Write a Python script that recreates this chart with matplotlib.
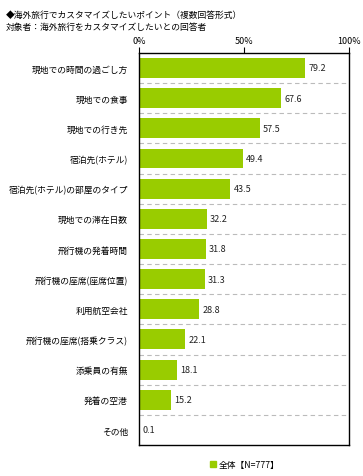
import matplotlib
matplotlib.use("Agg")
import matplotlib.pyplot as plt
from matplotlib.patches import Rectangle

plt.rcParams['font.family'] = ['Noto Sans CJK JP', 'DejaVu Sans']

categories = [
    "現地での時間の過ごし方",
    "現地での食事",
    "現地での行き先",
    "宿泊先(ホテル)",
    "宿泊先(ホテル)の部屋のタイプ",
    "現地での滞在日数",
    "飛行機の発着時間",
    "飛行機の座席(座席位置)",
    "利用航空会社",
    "飛行機の座席(搭乗クラス)",
    "添乗員の有無",
    "発着の空港",
    "その他",
]
values = [79.2, 67.6, 57.5, 49.4, 43.5, 32.2, 31.8, 31.3, 28.8, 22.1, 18.1, 15.2, 0.1]
ticks = [0, 50, 100]
tick_labels = ["0%", "50%", "100%"]
legend_label = "全体【N=777】"
bar_color = "#99CC00"

fig = plt.figure(figsize=(3.63, 4.77), dpi=100)
ax = fig.add_axes([0.383, 0.065, 0.578, 0.822])

y = list(range(len(categories)))
ax.barh(y, values, height=0.66, color=bar_color, zorder=2)
for yi, v in zip(y, values):
    ax.text(v + 1.5, yi, f"{v:.1f}", va="center", ha="left", fontsize=6.5, color="#222222")

ax.set_ylim(len(categories) - 0.5, -0.5)
ax.set_xlim(0, 100)
ax.set_yticks(y)
ax.set_yticklabels(categories, fontsize=6.3)
ax.tick_params(axis="y", length=0, pad=8)
ax.xaxis.tick_top()
ax.set_xticks(ticks)
ax.set_xticklabels(tick_labels, fontsize=6.5)
ax.tick_params(axis="x", direction="out", length=4, width=0.8, pad=2)

for k in range(len(categories) - 1):
    ax.axhline(k + 0.5, color="#bbbbbb", linestyle=(0, (4, 3)), linewidth=0.8, zorder=1)

for s in ax.spines.values():
    s.set_linewidth(1.0)
    s.set_color("black")

fig.text(0.016, 0.968, "◆海外旅行でカスタマイズしたいポイント（複数回答形式）", fontsize=6.3, va="center", ha="left")
fig.text(0.016, 0.942, "対象者：海外旅行をカスタマイズしたいとの回答者", fontsize=6.3, va="center", ha="left")

fig.patches.append(Rectangle((210 / 363, 1 - 468 / 477), 6 / 363, 6 / 477,
                             transform=fig.transFigure, color=bar_color))
fig.text(219 / 363, 1 - 465 / 477, legend_label, fontsize=6.3, va="center", ha="left")

fig.savefig("out.png", dpi=100)
